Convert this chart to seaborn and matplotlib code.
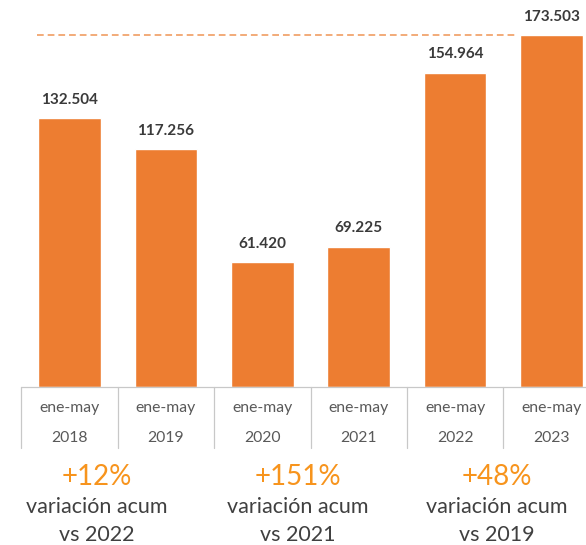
import matplotlib
matplotlib.use("Agg")
import matplotlib.pyplot as plt
import matplotlib.transforms as mtransforms
import seaborn as sns
import pandas as pd

# ---- data ----
periods = ["ene-may", "ene-may", "ene-may", "ene-may", "ene-may", "ene-may"]
years = ["2018", "2019", "2020", "2021", "2022", "2023"]
values = [132.504, 117.256, 61.420, 69.225, 154.964, 173.503]
value_labels = ["132.504", "117.256", "61.420", "69.225", "154.964", "173.503"]
variations = ["+12%", "+151%", "+48%"]
variation_texts = ["variación acum\nvs 2022", "variación acum\nvs 2021", "variación acum\nvs 2019"]

BAR = "#ED7D31"
DASH = "#EF9455"
LABEL = "#3A3A3A"
TICK = "#595959"
GRID = "#C8C8C8"
PCT = "#F7941D"
TXT = "#404040"

sns.set_theme(style="white")
plt.rcParams["font.family"] = ["Lato", "DejaVu Sans"]

df = pd.DataFrame({"year": years, "value": values})

fig = plt.figure(figsize=(5.86, 5.45), dpi=100)
# axes extends slightly beyond the right edge like the reference crop
ax = fig.add_axes([21.3 / 586, 158 / 545, 578.4 / 586, 387 / 545])
bw = 0.65
sns.barplot(data=df, x="year", y="value", color=BAR, width=bw, ax=ax,
            saturation=1, errorbar=None)
ax.set_ylim(0, 190.7)
ax.set_xlim(-0.5, len(years) - 0.5)
for s in ax.spines.values():
    s.set_visible(False)
ax.set_xticks([])
ax.set_yticks([])
ax.set_xlabel("")
ax.set_ylabel("")

# value labels
for i, (v, t) in enumerate(zip(values, value_labels)):
    ax.annotate(t, (i, v), xytext=(0, 8), textcoords="offset points",
                ha="center", va="bottom", fontsize=11, fontweight="bold",
                color=LABEL)

# dashed reference line at the maximum
imax = values.index(max(values))
ax.hlines(max(values), 0 - bw / 2 - 0.015, imax - bw / 2 - 0.05, colors=DASH,
          linestyles=(0, (4.4, 2.6)), linewidth=1.1)

# table-like category axis
tr = mtransforms.blended_transform_factory(ax.transData, ax.transAxes)
n = len(years)
ax.plot([-0.5, n - 0.5], [0, 0], transform=tr, color=GRID, lw=0.9, clip_on=False)
for k in range(n + 1):
    ax.plot([k - 0.5, k - 0.5], [0, -61 / 387], transform=tr, color=GRID,
            lw=0.9, clip_on=False)
for i, (p, y) in enumerate(zip(periods, years)):
    ax.text(i, -21 / 387, p, transform=tr, ha="center", va="center",
            fontsize=11.3, color=TICK)
    ax.text(i, -51 / 387, y, transform=tr, ha="center", va="center",
            fontsize=11.3, color=TICK)

# bottom annotations
xs = [97, 298, 497]
for x, pct, txt in zip(xs, variations, variation_texts):
    fig.text(x / 586, 1 - 477 / 545, pct, ha="center", va="center",
             fontsize=20, color=PCT)
    l1, l2 = txt.split("\n")
    fig.text(x / 586, 1 - 507 / 545, l1, ha="center", va="center",
             fontsize=15.5, color=TXT)
    fig.text(x / 586, 1 - 535 / 545, l2, ha="center", va="center",
             fontsize=15.5, color=TXT)

fig.savefig("out.png", dpi=100)
